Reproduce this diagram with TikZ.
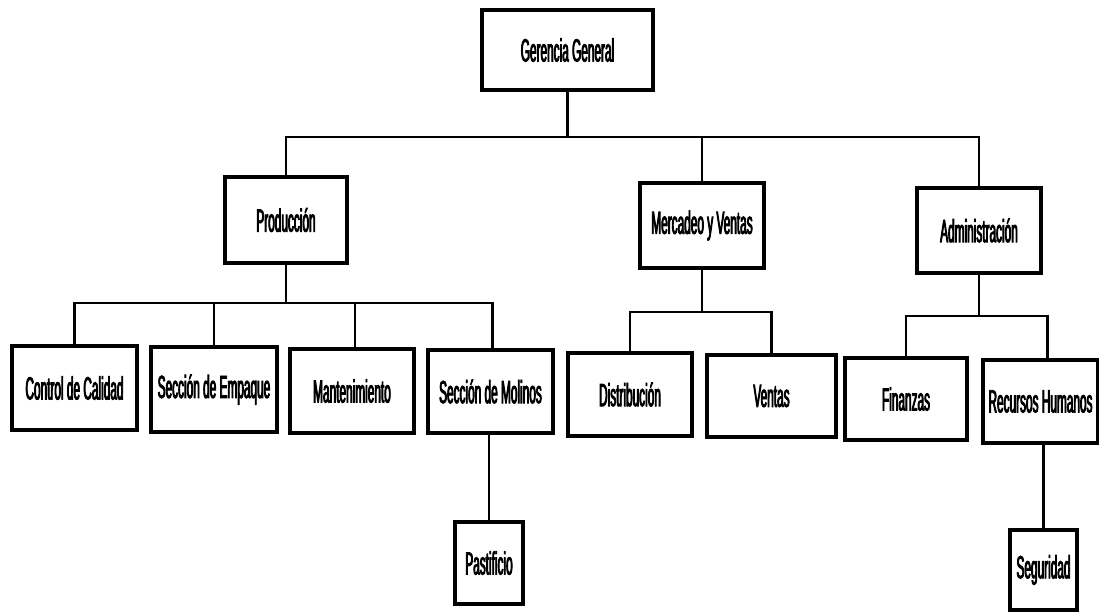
\documentclass[tikz,border=0pt]{standalone}
\usepackage{fontspec}
\setmainfont[FakeStretch=0.37, FakeBold=2.5]{Liberation Sans}
\begin{document}
\begin{tikzpicture}[x=1pt,y=-1pt,
  box/.style={draw=black, line width=3.2pt, fill=white, inner sep=0pt, align=center,
    font=\fontsize{32}{34}\selectfont},
  link/.style={draw=black, line width=2.4pt}]
\useasboundingbox (0,0) rectangle (1099,614);
% boxes
\node[box, minimum width=171pt, minimum height=80pt] (gg) at (567.5,50) {Gerencia General};
\node[box, minimum width=122pt, minimum height=86pt] (prod) at (286,220) {Producción};
\node[box, minimum width=124pt, minimum height=85pt] (merc) at (702,225.5) {Mercadeo y Ventas};
\node[box, minimum width=124pt, minimum height=85pt] (adm) at (979,230.5) {Administración};
\node[box, minimum width=125pt, minimum height=84pt] (cc) at (74.5,388) {Control de Calidad};
\node[box, minimum width=126pt, minimum height=85pt] (emp) at (214,389.5) {Sección de Empaque};
\node[box, minimum width=124pt, minimum height=84pt] (mant) at (352,391) {Mantenimiento};
\node[box, minimum width=125pt, minimum height=83pt] (mol) at (490.5,391.5) {Sección de Molinos};
\node[box, minimum width=124pt, minimum height=83pt] (dist) at (630,394.5) {Distribución};
\node[box, minimum width=129pt, minimum height=82pt] (ven) at (771.5,396) {Ventas};
\node[box, minimum width=122pt, minimum height=82pt] (fin) at (906,399) {Finanzas};
\node[box, minimum width=115pt, minimum height=83pt] (rh) at (1040.5,401.5) {Recursos Humanos};
\node[box, minimum width=68pt, minimum height=82pt] (past) at (489,563) {Pastificio};
\node[box, minimum width=67pt, minimum height=80pt] (seg) at (1043.5,570) {Seguridad};
% bus points
\coordinate (b0) at (567.5,137);
\coordinate (b1) at (286,303);
\coordinate (b2) at (702,312);
\coordinate (b3) at (979,316);
% top level
\draw[link] (gg.south) -- (b0);
\draw[link] (prod.north) |- (b0) -| (adm.north);
\draw[link] (merc.north) -- (merc.north |- b0);
% produccion
\draw[link] (prod.south) -- (b1);
\draw[link] (cc.north) |- (b1) -| ([xshift=2pt]mol.north);
\draw[link] (emp.north) -- (emp.north |- b1);
\draw[link] ([xshift=3pt]mant.north) -- ([xshift=3pt]mant.north |- b1);
% mercadeo
\draw[link] (merc.south) -- (b2);
\draw[link] (dist.north) |- (b2) -| (ven.north);
% administracion
\draw[link] (adm.south) -- (b3);
\draw[link] (fin.north) |- (b3) -| ([xshift=7pt]rh.north);
% leaves
\draw[link] (past.north) -- (past.north |- mol.south);
\draw[link] (seg.north) -- (seg.north |- rh.south);
\end{tikzpicture}
\end{document}
